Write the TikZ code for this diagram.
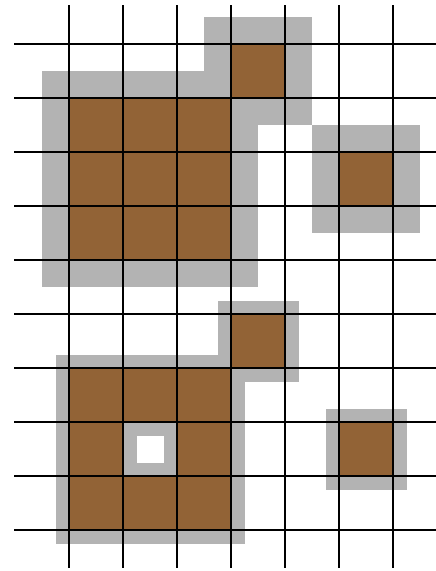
\documentclass[tikz,border=0pt]{standalone}
\definecolor{cellbrown}{RGB}{146,99,54}
\definecolor{halogray}{RGB}{179,179,179}
\tikzset{
  halo/.style={fill=halogray, draw=none},
  brown cell/.style={fill=cellbrown, draw=none},
  hole/.style={fill=white, draw=none},
  gridline/.style={draw=black, line width=1.6pt}
}
\begin{document}
\begin{tikzpicture}[x=1pt,y=-1pt]
\useasboundingbox (0,0) rectangle (436,571);
% ---- upper structure (wide halo) ----
\fill[halo] (42,71) rectangle (258,287);
\fill[halo] (204,17) rectangle (312,125);
\fill[halo] (312,125) rectangle (420,233);
\fill[brown cell] (69,98) rectangle (231,260);
\fill[brown cell] (231,44) rectangle (285,98);
\fill[brown cell] (339,152) rectangle (393,206);
% ---- lower structure (narrow halo) ----
\fill[halo] (217.5,300.5) rectangle (298.5,381.5);
\fill[halo] (55.5,354.5) rectangle (244.5,543.5);
\fill[halo] (325.5,408.5) rectangle (406.5,489.5);
\fill[hole] (136.5,435.5) rectangle (163.5,462.5);
\fill[brown cell] (231,314) rectangle (285,368);
\fill[brown cell] (69,368) rectangle (123,530);
\fill[brown cell] (177,368) rectangle (231,530);
\fill[brown cell] (123,368) rectangle (177,422);
\fill[brown cell] (123,476) rectangle (177,530);
\fill[brown cell] (339,422) rectangle (393,476);
% ---- grid ----
\foreach \gx in {69,123,177,231,285,339,393}
  \draw[gridline] (\gx,5) -- (\gx,568);
\foreach \gy in {44,98,152,206,260,314,368,422,476,530}
  \draw[gridline] (14,\gy) -- (436,\gy);
\end{tikzpicture}
\end{document}
